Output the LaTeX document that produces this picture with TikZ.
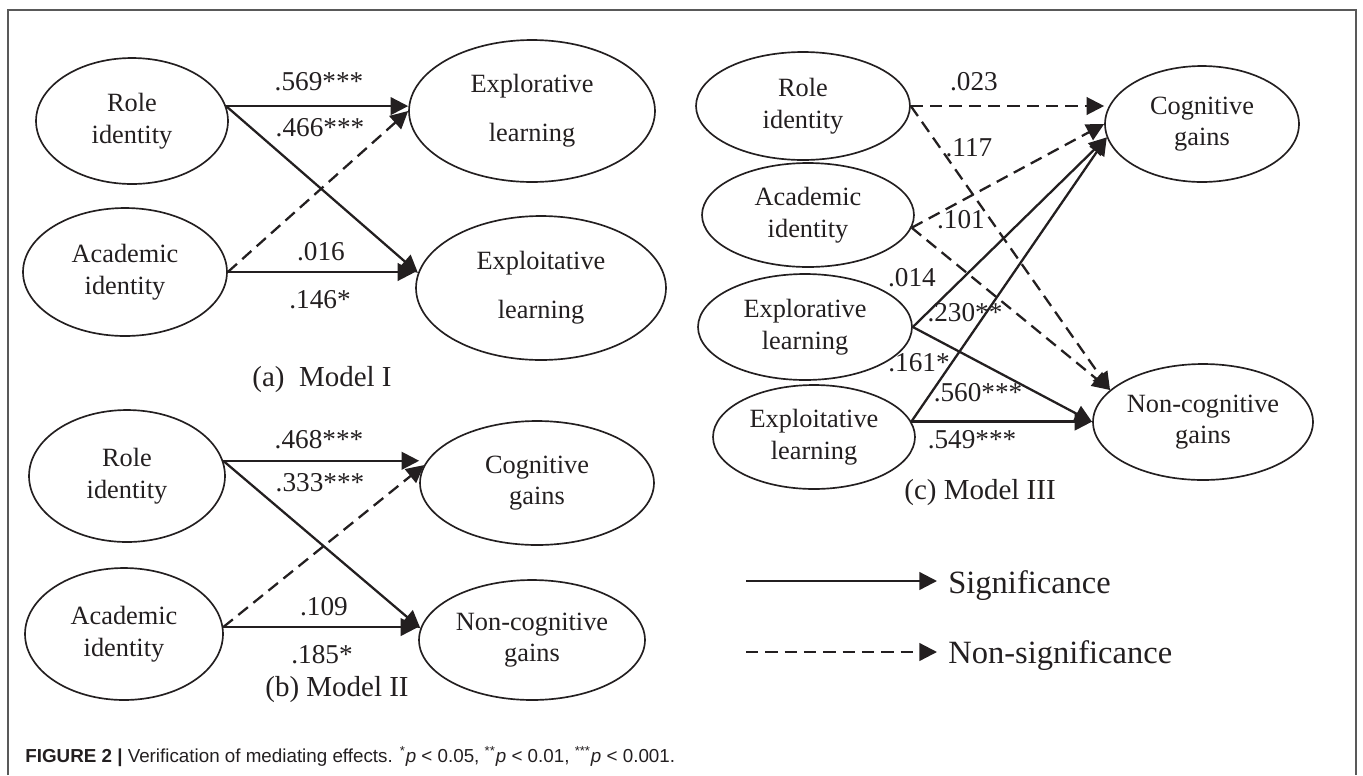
\documentclass[tikz,border=0pt]{standalone}
\usepackage{fontspec}
\setmainfont{Liberation Serif}
\newfontfamily\capfont{Liberation Sans}
\usetikzlibrary{shapes.geometric,arrows.meta}
\definecolor{ink}{HTML}{231F20}

\begin{document}
\begin{tikzpicture}[x=0.02cm, y=-0.02cm,
  latent/.style={ellipse, draw=ink, line width=0.95pt, inner sep=0pt, align=center,
    text=ink, font=\fontsize{15}{18}\selectfont},
  sig/.style={draw=ink, line width=1.3pt, -{Triangle[length=10pt,width=10pt]}},
  nonsig/.style={sig, dash pattern=on 7pt off 4pt},
  coef/.style={text=ink, font=\fontsize{15.5}{18}\selectfont},
  model/.style={text=ink, font=\fontsize{16.5}{20}\selectfont},
  legend/.style={anchor=base west, inner sep=0pt, text=ink, font=\fontsize{18.5}{22}\selectfont}]
  \useasboundingbox (0,0) rectangle (1363,775);
  \draw[black!65, line width=0.6pt] (8,775) -- (8,10) -- (1356,10) -- (1356,775);

  % (a) Model I
  \node[latent, minimum width=3.84cm, minimum height=2.52cm] (roleA) at (132,121) {Role\\identity};
  \node[latent, minimum width=4.08cm, minimum height=2.56cm] (acadA) at (125,272) {Academic\\identity};
  \node[latent, minimum width=4.92cm, minimum height=2.84cm] (explA) at (532,111) {Explorative\\[10pt]learning};
  \node[latent, minimum width=5.00cm, minimum height=2.88cm] (exploitA) at (541,288) {Exploitative\\[10pt]learning};

  \draw[sig] (roleA.9) -- (roleA.9 -| explA.west);
  \draw[sig] (roleA.9) -- (exploitA.173);
  \draw[nonsig] (acadA.east) -- (explA.west);
  \draw[sig] (acadA.east) -- (acadA.east -| exploitA.west);

  \foreach \val/\x/\y [count=\i] in {.569***/319/82, .466***/320/128, .016/321/252, .146*/320/300}
    \node[coef] (cA\i) at (\x,\y) {\val};
  \node[model] (modA) at (322,380) {(a)\enspace Model I};

  % (b) Model II
  \node[latent, minimum width=3.92cm, minimum height=2.64cm] (roleB) at (127,476) {Role\\identity};
  \node[latent, minimum width=3.96cm, minimum height=2.64cm] (acadB) at (124,634) {Academic\\identity};
  \node[latent, minimum width=4.68cm, minimum height=2.48cm] (cogB) at (537,483) {Cognitive\\gains};
  \node[latent, minimum width=4.52cm, minimum height=2.40cm] (noncogB) at (532,640) {Non-cognitive\\gains};

  \draw[sig] (roleB.9) -- (roleB.9 -| cogB.west);
  \draw[sig] (roleB.9) -- (noncogB.174);
  \draw[nonsig] (acadB.4) -- (cogB.171);
  \draw[sig] (acadB.4) -- (acadB.4 -| noncogB.west);

  \foreach \val/\x/\y [count=\i] in {.468***/319/440, .333***/320/483, .109/324/607, .185*/322/655}
    \node[coef] (cB\i) at (\x,\y) {\val};
  \node[model] (modB) at (337,690) {(b) Model II};

  % (c) Model III
  \node[latent, minimum width=4.28cm, minimum height=2.16cm] (roleC) at (803,106) {Role\\identity};
  \node[latent, minimum width=4.24cm, minimum height=2.08cm] (acadC) at (808,215) {Academic\\identity};
  \node[latent, minimum width=4.28cm, minimum height=2.12cm] (explC) at (805,327) {Explorative\\learning};
  \node[latent, minimum width=4.04cm, minimum height=2.08cm] (exploitC) at (814,437) {Exploitative\\learning};
  \node[latent, minimum width=3.88cm, minimum height=2.32cm] (cogC) at (1202,124) {Cognitive\\gains};
  \node[latent, minimum width=4.40cm, minimum height=2.32cm] (noncogC) at (1203,422) {Non-cognitive\\gains};

  \draw[nonsig] (roleC.east) -- (roleC.east -| cogC.west);
  \draw[nonsig] (roleC.east) -- (noncogC.161);
  \draw[nonsig] (acadC.-7) -- (cogC.west);
  \draw[nonsig] (acadC.-7) -- (noncogC.161);
  \draw[sig] (explC.east) -- (cogC.188);
  \draw[sig] (explC.east) -- (noncogC.west);
  \draw[sig] (exploitC.9) -- (cogC.188);
  \draw[sig] (exploitC.9) -- (exploitC.9 -| noncogC.west);

  \foreach \val/\x/\y [count=\i] in {.023/974/82, .117/969/148, .101/961/220, .014/912/278,
      .230**/965/313, .161*/919/363, .560***/978/393, .549***/972/440}
    \node[coef] (cC\i) at (\x,\y) {\val};
  \node[model] (modC) at (980,493) {(c) Model III};

  % legend
  \coordinate (sigA) at (746,581);
  \coordinate (nonsigA) at (746,652);
  \node[legend] (sigL) at (948,593) {Significance};
  \node[legend] (nonsigL) at (948,663) {Non-significance};
  \draw[sig] (sigA) -- ([xshift=-0.22cm]sigA -| sigL.west);
  \draw[nonsig] (nonsigA) -- ([xshift=-0.22cm]nonsigA -| nonsigL.west);

  % caption
  \node[anchor=base west, inner sep=0pt, text=ink] (cap) at (25,762)
    {\capfont\fontsize{10.7}{12}\selectfont\textbf{FIGURE 2 |} Verification of mediating effects.
     \textsuperscript{*}\textit{p} < 0.05, \textsuperscript{**}\textit{p} < 0.01,
     \textsuperscript{***}\textit{p} < 0.001.};
\end{tikzpicture}
\end{document}
